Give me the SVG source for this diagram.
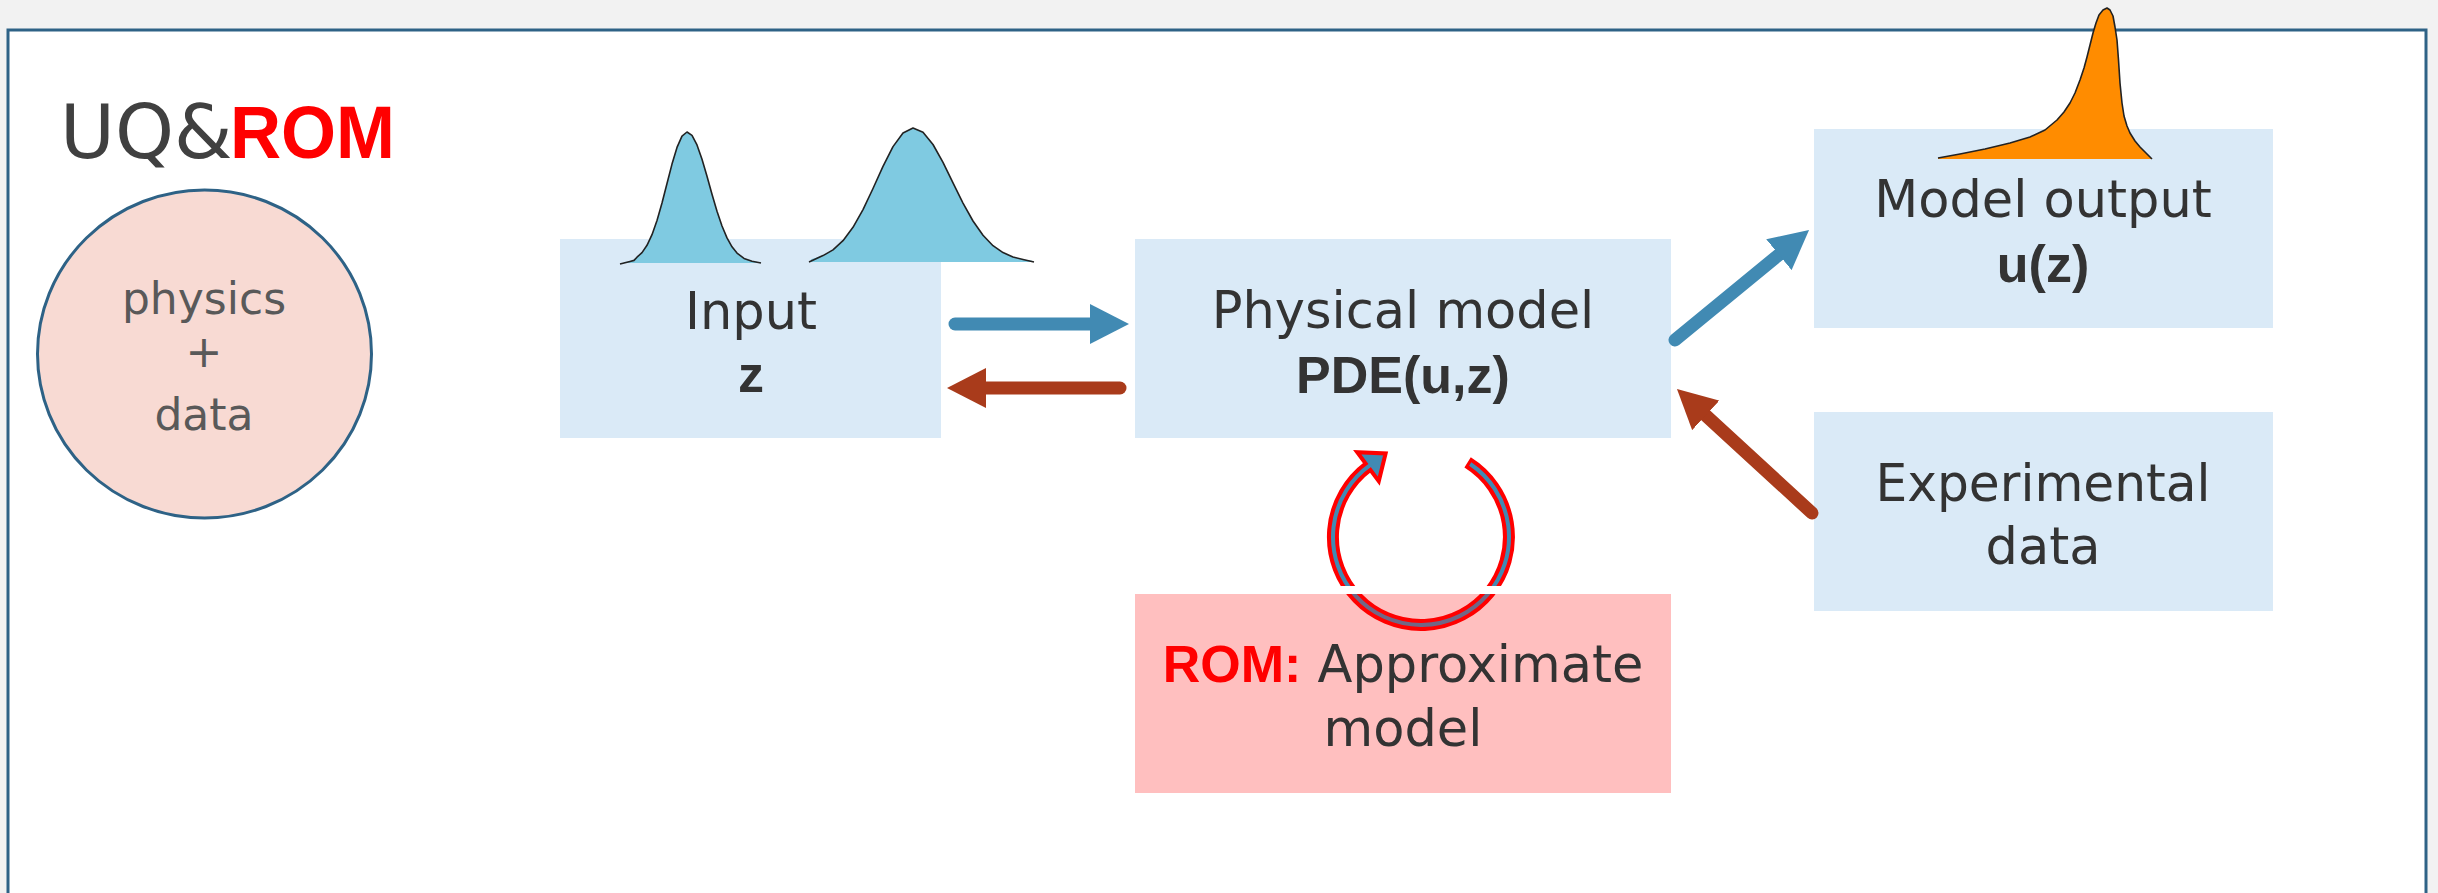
<svg xmlns="http://www.w3.org/2000/svg" width="2438" height="893" viewBox="0 0 2438 893">
<style>
.lbl{font-family:"DejaVu Sans","Liberation Sans",sans-serif;font-size:51px;fill:#333333;text-anchor:middle}
.bold{font-family:"Liberation Sans",Arial,sans-serif;font-weight:bold;font-size:52px}
.box{fill:#DAEAF7}
.conn{fill:none;stroke-width:13;stroke-linecap:round}
.blue{stroke:#418AB3}
.red{stroke:#A93B1B}
.dist{stroke:#222;stroke-width:1.6;fill:none;stroke-linejoin:round}
</style>
<defs>
<marker id="hb" markerUnits="userSpaceOnUse" markerWidth="40" markerHeight="40" viewBox="0 0 40 40" refX="0" refY="20" orient="auto"><path d="M0,0 L39,20 L0,40 z" fill="#418AB3"/></marker>
<marker id="hr" markerUnits="userSpaceOnUse" markerWidth="40" markerHeight="40" viewBox="0 0 40 40" refX="0" refY="20" orient="auto"><path d="M0,0 L39,20 L0,40 z" fill="#A93B1B"/></marker>
</defs>
<rect x="0" y="0" width="2438" height="893" fill="#F2F2F2"/>
<rect id="frame" x="8" y="30" width="2418" height="900" fill="#FFFFFF" stroke="#2E6286" stroke-width="3"/>
<g id="title">
<text x="60" y="158" font-family="'DejaVu Sans',sans-serif" font-size="75" fill="#404040">UQ&amp;</text>
<text x="230" y="158" font-family="'Liberation Sans',Arial,sans-serif" font-weight="bold" font-size="75" fill="#FF0000" textLength="165" lengthAdjust="spacingAndGlyphs">ROM</text>
</g>
<g id="node-physics-data">
<ellipse cx="204.5" cy="354" rx="167" ry="164" fill="#F8DAD3" stroke="#2E6286" stroke-width="3"/>
<text class="lbl" x="204" y="314" style="font-size:44px;fill:#595959">physics</text>
<text class="lbl" x="204" y="367" style="font-size:44px;fill:#595959">+</text>
<text class="lbl" x="204" y="430" style="font-size:44px;fill:#595959">data</text>
</g>
<g id="node-input">
<rect class="box" x="560" y="239" width="381" height="199"/>
<text class="lbl" x="751" y="329">Input</text>
<text class="lbl bold" x="751" y="392">z</text>
</g>
<g id="node-physical-model">
<rect class="box" x="1135" y="239" width="536" height="199"/>
<text class="lbl" x="1403" y="328">Physical model</text>
<text class="lbl bold" x="1403" y="393">PDE(u,z)</text>
</g>
<g id="node-model-output">
<rect class="box" x="1814" y="129" width="459" height="199"/>
<text class="lbl" x="2043" y="217">Model output</text>
<text class="lbl bold" x="2043" y="282">u(z)</text>
</g>
<g id="node-experimental-data">
<rect class="box" x="1814" y="412" width="459" height="199"/>
<text class="lbl" x="2043" y="501" textLength="335" lengthAdjust="spacingAndGlyphs">Experimental</text>
<text class="lbl" x="2043" y="564">data</text>
</g>
<g id="connectors">
<line class="conn blue" x1="955" y1="324" x2="1090" y2="324" marker-end="url(#hb)"/>
<line class="conn red" x1="1120" y1="388" x2="986" y2="388" marker-end="url(#hr)"/>
<line class="conn blue" x1="1675" y1="340" x2="1778.9" y2="254.7" marker-end="url(#hb)"/>
<line class="conn red" x1="1812" y1="513" x2="1705.7" y2="415.4" marker-end="url(#hr)"/>
<g id="rom-cycle">
<path d="M1467.6,462.4 A88,88 0 1 1 1368.0,466.7" fill="none" stroke="#FF0000" stroke-width="12"/>
<polygon points="1385.6,453.5 1378.8,481.1 1357.2,452.3" fill="#418AB3" stroke="#FF0000" stroke-width="4" stroke-linejoin="miter"/>
<path d="M1470.2,464.0 A88,88 0 1 1 1370.5,464.9" fill="none" stroke="#418AB3" stroke-width="4"/>
</g>
</g>
<g id="node-rom">
<rect x="1315" y="586" width="215" height="8" fill="#FFFFFF"/>
<rect x="1135" y="594" width="536" height="199" fill="#FF0000" fill-opacity="0.25"/>
<text class="lbl" x="1403" y="682"><tspan class="bold" fill="#FF0000">ROM:</tspan> Approximate</text>
<text class="lbl" x="1403" y="746">model</text>
</g>
<g id="distributions">
<path d="M624,262.1 L630,261.4 L634,260.4 L637,257.2 L642,252.6 L647,245.3 L652,234.7 L657,220.5 L662,203 L667,183.5 L672,164.1 L677,147.4 L682,136.1 L687,132 L692,135.3 L697,144.9 L702,159.2 L707,176.3 L712,194.3 L717,211.3 L722,226 L727,237.9 L732,246.8 L737,253.1 L744,258.4 L752,261.3 L761,262.5 L761,263 L624,263 Z" fill="#7FCAE1"/>
<path class="dist" d="M620,264 L630,261.4 L634,260.4 L637,257.2 L642,252.6 L647,245.3 L652,234.7 L657,220.5 L662,203 L667,183.5 L672,164.1 L677,147.4 L682,136.1 L687,132 L692,135.3 L697,144.9 L702,159.2 L707,176.3 L712,194.3 L717,211.3 L722,226 L727,237.9 L732,246.8 L737,253.1 L744,258.4 L752,261.3 L761,263"/>
<path d="M811,259.3 L823,255.6 L833,249.9 L843,240.7 L853,227.3 L863,209.6 L873,188.5 L883,166.4 L893,146.6 L903,133 L913,128 L923,132.3 L933,144.5 L943,162.3 L953,182.8 L963,203.1 L973,221 L983,235.2 L993,245.7 L1003,252.6 L1013,257 L1023,259.5 L1032,260.7 L1032,262 L811,262 Z" fill="#7FCAE1"/>
<path class="dist" d="M809,262 L823,255.6 L833,249.9 L843,240.7 L853,227.3 L863,209.6 L873,188.5 L883,166.4 L893,146.6 L903,133 L913,128 L923,132.3 L933,144.5 L943,162.3 L953,182.8 L963,203.1 L973,221 L983,235.2 L993,245.7 L1003,252.6 L1013,257 L1023,259.5 L1034,262"/>
<path d="M1938,158 L1960,154 L1985,149 L2010,143 L2030,137 L2045,130 L2057,120 L2064,112 L2070,103 L2075,93 L2080,80 L2084,68 L2087,57 L2090,45 L2093,33 L2096,23 L2099,15 L2103,10 L2107,8 L2110,10 L2113,16 L2115,27 L2117,40 L2118.5,60 L2120,83 L2122,103 L2124,116 L2127,126 L2130,133 L2135,141 L2140,147 L2146,153 L2152,159 L1938,159 Z" fill="#FF8C00"/>
<path class="dist" d="M1938,158 L1960,154 L1985,149 L2010,143 L2030,137 L2045,130 L2057,120 L2064,112 L2070,103 L2075,93 L2080,80 L2084,68 L2087,57 L2090,45 L2093,33 L2096,23 L2099,15 L2103,10 L2107,8 L2110,10 L2113,16 L2115,27 L2117,40 L2118.5,60 L2120,83 L2122,103 L2124,116 L2127,126 L2130,133 L2135,141 L2140,147 L2146,153 L2152,159"/>
</g>
</svg>
